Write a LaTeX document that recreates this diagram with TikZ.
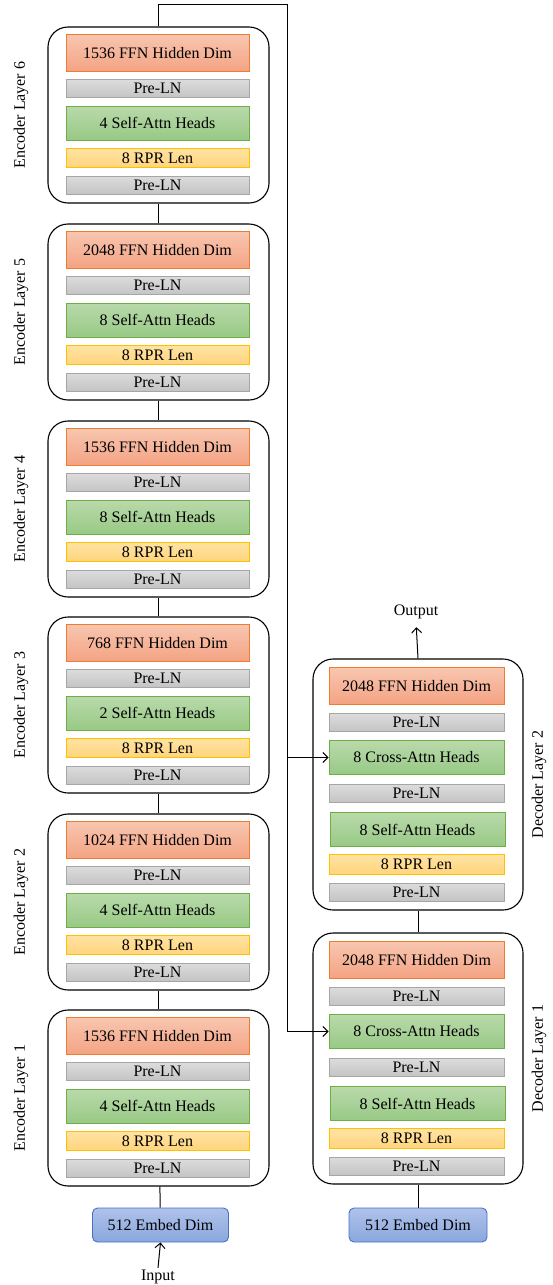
\documentclass[tikz,border=0pt]{standalone}
\usepackage{fontspec}
\setmainfont{Liberation Serif}
\usetikzlibrary{arrows.meta}

\definecolor{ffnline}{HTML}{ED7D31}
\definecolor{ffntop}{HTML}{F8C6B0}
\definecolor{ffnbot}{HTML}{F4A383}
\definecolor{lnline}{HTML}{A6A6A6}
\definecolor{lntop}{HTML}{DCDCDC}
\definecolor{lnbot}{HTML}{C4C4C4}
\definecolor{attline}{HTML}{70AD47}
\definecolor{atttop}{HTML}{B9DAAB}
\definecolor{attbot}{HTML}{98C985}
\definecolor{rprline}{HTML}{FFC000}
\definecolor{rprtop}{HTML}{FFE3A3}
\definecolor{rprbot}{HTML}{FFD47C}
\definecolor{embline}{HTML}{4472C4}
\definecolor{embtop}{HTML}{AFC2EA}
\definecolor{embbot}{HTML}{8BA7DD}

\tikzset{
 blk/.style={draw, line width=0.9pt, inner sep=0pt, font=\fontsize{16}{18}\selectfont},
 ffn/.style={blk, draw=ffnline, top color=ffntop, bottom color=ffnbot, minimum height=37pt},
 preln/.style={blk, draw=lnline, top color=lntop, bottom color=lnbot, minimum height=18pt},
 attn/.style={blk, draw=attline, top color=atttop, bottom color=attbot, minimum height=34pt},
 rpr/.style={blk, draw=rprline, top color=rprtop, bottom color=rprbot, minimum height=19.5pt},
 embed/.style={blk, draw=embline, top color=embtop, bottom color=embbot, rounded corners=5pt, minimum height=34pt},
 layer/.style={draw, line width=1.1pt, rounded corners=20pt, inner sep=0pt},
 lab/.style={rotate=90, font=\fontsize{16}{18}\selectfont},
 conn/.style={line width=1pt},
 enc/.style={minimum width=183pt},
 dec/.style={minimum width=175pt}
}

\begin{document}
\begin{tikzpicture}[x=1pt, y=-1pt, >={Straight Barb[length=5pt,width=10pt]}]
\useasboundingbox (0,0) rectangle (552,1285);

% encoder layer 6
\begin{scope}[shift={(0,27)}]
 \node[layer, minimum width=221pt, minimum height=176pt] (e6box) at (158.5,88) {};
 \node[lab] (e6lab) at (21,88) {Encoder Layer 6};
 \node[ffn, enc] (e6ffn) at (157.5,26) {1536 FFN Hidden Dim};
 \node[preln, enc] (e6lna) at (157.5,61.5) {Pre-LN};
 \node[attn, enc] (e6sa) at (157.5,96) {4 Self-Attn Heads};
 \node[rpr, enc] (e6rpr) at (157.5,131) {8 RPR Len};
 \node[preln, enc] (e6lnb) at (157.5,158) {Pre-LN};
\end{scope}

% encoder layer 5
\begin{scope}[shift={(0,224)}]
 \node[layer, minimum width=221pt, minimum height=176pt] (e5box) at (158.5,88) {};
 \node[lab] (e5lab) at (21,88) {Encoder Layer 5};
 \node[ffn, enc] (e5ffn) at (157.5,26) {2048 FFN Hidden Dim};
 \node[preln, enc] (e5lna) at (157.5,61.5) {Pre-LN};
 \node[attn, enc] (e5sa) at (157.5,96) {8 Self-Attn Heads};
 \node[rpr, enc] (e5rpr) at (157.5,131) {8 RPR Len};
 \node[preln, enc] (e5lnb) at (157.5,158) {Pre-LN};
\end{scope}

% encoder layer 4
\begin{scope}[shift={(0,421)}]
 \node[layer, minimum width=221pt, minimum height=176pt] (e4box) at (158.5,88) {};
 \node[lab] (e4lab) at (21,88) {Encoder Layer 4};
 \node[ffn, enc] (e4ffn) at (157.5,26) {1536 FFN Hidden Dim};
 \node[preln, enc] (e4lna) at (157.5,61.5) {Pre-LN};
 \node[attn, enc] (e4sa) at (157.5,96) {8 Self-Attn Heads};
 \node[rpr, enc] (e4rpr) at (157.5,131) {8 RPR Len};
 \node[preln, enc] (e4lnb) at (157.5,158) {Pre-LN};
\end{scope}

% encoder layer 3
\begin{scope}[shift={(0,617)}]
 \node[layer, minimum width=221pt, minimum height=176pt] (e3box) at (158.5,88) {};
 \node[lab] (e3lab) at (21,88) {Encoder Layer 3};
 \node[ffn, enc] (e3ffn) at (157.5,26) {768 FFN Hidden Dim};
 \node[preln, enc] (e3lna) at (157.5,61.5) {Pre-LN};
 \node[attn, enc] (e3sa) at (157.5,96) {2 Self-Attn Heads};
 \node[rpr, enc] (e3rpr) at (157.5,131) {8 RPR Len};
 \node[preln, enc] (e3lnb) at (157.5,158) {Pre-LN};
\end{scope}

% encoder layer 2
\begin{scope}[shift={(0,814)}]
 \node[layer, minimum width=221pt, minimum height=176pt] (e2box) at (158.5,88) {};
 \node[lab] (e2lab) at (21,88) {Encoder Layer 2};
 \node[ffn, enc] (e2ffn) at (157.5,26) {1024 FFN Hidden Dim};
 \node[preln, enc] (e2lna) at (157.5,61.5) {Pre-LN};
 \node[attn, enc] (e2sa) at (157.5,96) {4 Self-Attn Heads};
 \node[rpr, enc] (e2rpr) at (157.5,131) {8 RPR Len};
 \node[preln, enc] (e2lnb) at (157.5,158) {Pre-LN};
\end{scope}

% encoder layer 1
\begin{scope}[shift={(0,1010)}]
 \node[layer, minimum width=221pt, minimum height=176pt] (e1box) at (158.5,88) {};
 \node[lab] (e1lab) at (21,88) {Encoder Layer 1};
 \node[ffn, enc] (e1ffn) at (157.5,26) {1536 FFN Hidden Dim};
 \node[preln, enc] (e1lna) at (157.5,61.5) {Pre-LN};
 \node[attn, enc] (e1sa) at (157.5,96) {4 Self-Attn Heads};
 \node[rpr, enc] (e1rpr) at (157.5,131) {8 RPR Len};
 \node[preln, enc] (e1lnb) at (157.5,158) {Pre-LN};
\end{scope}

% decoder layer 2
\begin{scope}[shift={(0,659)}]
 \node[layer, minimum width=210pt, minimum height=251pt] (d2box) at (418,125.5) {};
 \node[lab] (d2lab) at (539,125.5) {Decoder Layer 2};
 \node[ffn, dec] (d2ffn) at (416.5,27) {2048 FFN Hidden Dim};
 \node[preln, dec] (d2lna) at (416.5,63.5) {Pre-LN};
 \node[attn, dec] (d2ca) at (416.5,98.5) {8 Cross-Attn Heads};
 \node[preln, dec] (d2lnb) at (416.5,134.5) {Pre-LN};
 \node[attn, dec] (d2sa) at (417.5,170.5) {8 Self-Attn Heads};
 \node[rpr, dec] (d2rpr) at (416.5,205.5) {8 RPR Len};
 \node[preln, dec] (d2lnc) at (416.5,233) {Pre-LN};
\end{scope}

% decoder layer 1
\begin{scope}[shift={(0,933)}]
 \node[layer, minimum width=210pt, minimum height=251pt] (d1box) at (418,125.5) {};
 \node[lab] (d1lab) at (539,125.5) {Decoder Layer 1};
 \node[ffn, dec] (d1ffn) at (416.5,27) {2048 FFN Hidden Dim};
 \node[preln, dec] (d1lna) at (416.5,63.5) {Pre-LN};
 \node[attn, dec] (d1ca) at (416.5,98.5) {8 Cross-Attn Heads};
 \node[preln, dec] (d1lnb) at (416.5,134.5) {Pre-LN};
 \node[attn, dec] (d1sa) at (417.5,170.5) {8 Self-Attn Heads};
 \node[rpr, dec] (d1rpr) at (416.5,205.5) {8 RPR Len};
 \node[preln, dec] (d1lnc) at (416.5,233) {Pre-LN};
\end{scope}

% embeddings, input, output
\node[embed, minimum width=136pt] (eemb) at (160.5,1225) {512 Embed Dim};
\node[embed, minimum width=138pt] (demb) at (418,1225) {512 Embed Dim};
\node[font=\fontsize{16}{18}\selectfont, inner sep=2pt] (in) at (158,1277) {Input};
\node[font=\fontsize{16}{18}\selectfont, inner sep=2pt] (out) at (416,612) {Output};

\coordinate (bendl) at (158.5,4);
\coordinate (bendr) at (287,4);

\draw[conn] (eemb) -- (e1box);
\draw[conn] (e1box) -- (e2box);
\draw[conn] (e2box) -- (e3box);
\draw[conn] (e3box) -- (e4box);
\draw[conn] (e4box) -- (e5box);
\draw[conn] (e5box) -- (e6box);
\draw[conn, ->] (e6box.north) -- (bendl) -- (bendr) |- (d1ca.west);
\draw[conn, ->] (bendr |- d2ca.west) -- (d2ca.west);
\draw[conn] (demb) -- (d1box);
\draw[conn] (d1box) -- (d2box);
\draw[conn, ->, shorten >=6pt] (d2box.north) -- (out.south);
\draw[conn, ->] (in.north) -- (eemb.south);

\end{tikzpicture}
\end{document}
